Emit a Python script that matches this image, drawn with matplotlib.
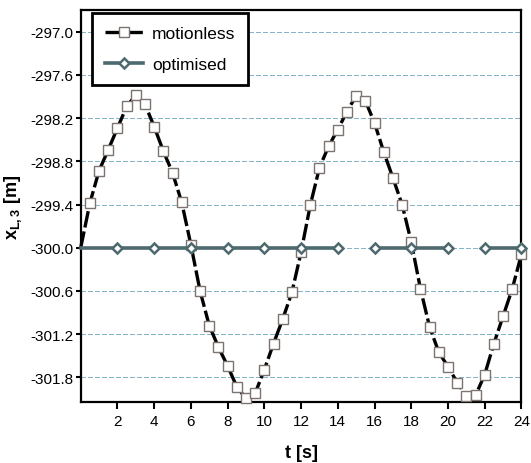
import matplotlib
matplotlib.use('Agg')
import matplotlib.pyplot as plt
import numpy as np

plt.rcParams['font.family'] = ['Liberation Sans', 'DejaVu Sans']
plt.rcParams['axes.unicode_minus'] = False
plt.rcParams['mathtext.fontset'] = 'custom'
plt.rcParams['mathtext.rm'] = 'Liberation Sans'
plt.rcParams['mathtext.bf'] = 'Liberation Sans:bold'

# motionless case, sampled every 0.5 s
t_motion = np.arange(0, 24.5, 0.5)
x_motion = [
    -300.00, -299.38, -298.93, -298.64, -298.34, -298.04, -297.88,
    -298.01, -298.32, -298.66, -298.96, -299.37, -299.96, -300.60,
    -301.08, -301.38, -301.64, -301.93, -302.09, -302.02, -301.69,
    -301.33, -300.99, -300.62, -300.06, -299.41, -298.89, -298.59,
    -298.36, -298.11, -297.89, -297.96, -298.27, -298.67, -299.03,
    -299.40, -299.92, -300.57, -301.10, -301.45, -301.65, -301.87,
    -302.06, -302.05, -301.76, -301.33, -300.95, -300.57, -300.09,
]

# optimised case, sampled every 2 s
t_opt = [0, 2, 4, 6, 8, 10, 12, 14, 16, 18, 20, 22, 24]
x_opt = [-300.0] * 13
opt_breaks = [14, 20]  # line is not drawn after these points

y_ticks = [-297.0, -297.6, -298.2, -298.8, -299.4, -300.0,
           -300.6, -301.2, -301.8]
x_ticks = [2, 4, 6, 8, 10, 12, 14, 16, 18, 20, 22, 24]

# build optimised line with gaps
opt_line_t, opt_line_x, opt_marks = [], [], []
for t, x in zip(t_opt, x_opt):
    opt_line_t.append(t)
    opt_line_x.append(x)
    if t > 0:
        opt_marks.append(len(opt_line_t) - 1)
    if t in opt_breaks:
        opt_line_t.append(t + 1)
        opt_line_x.append(np.nan)

fig = plt.figure(figsize=(5.31, 4.64), dpi=100)
ax = fig.add_axes([0.152, 0.1315, 0.830, 0.845])

for y in y_ticks:
    ax.axhline(y, color='#86b6cc', lw=1.0, ls=(0, (3, 2)), zorder=0,
               antialiased=False)

ax.plot(t_motion, x_motion, color='black', lw=2.4, ls=(0, (5, 1.2)),
        marker='s', ms=7, mfc='white', mec='#7d7470', mew=1.0,
        markevery=list(range(1, len(t_motion))), clip_on=False,
        label='motionless', zorder=3)
ax.plot(opt_line_t, opt_line_x, color='#4d6a6e', lw=2.6,
        marker='D', ms=5.5, mfc='white', mec='#4d6a6e', mew=1.8,
        markevery=opt_marks, clip_on=False, label='optimised', zorder=4)

ax.set_xlim(0, 24)
ax.set_ylim(-302.14, -296.70)
ax.set_xticks(x_ticks)
ax.set_yticks(y_ticks)
ax.set_yticklabels([f'{v:.1f}' for v in y_ticks])
ax.tick_params(axis='both', direction='out', width=1.5, labelsize=11,
               colors='black')
ax.tick_params(axis='x', length=5, pad=4)
ax.tick_params(axis='y', length=3.5, pad=2)
for spine in ax.spines.values():
    spine.set_linewidth(1.6)
    spine.set_color('black')

ax.set_xlabel('t [s]', fontsize=13, fontweight='bold', labelpad=11)
ax.set_ylabel(r'x$_\mathbf{L,3}$ [m]', fontsize=13, fontweight='bold',
              labelpad=4)

leg = ax.legend(loc='upper left', bbox_to_anchor=(0.026, 0.993),
                borderaxespad=0, fontsize=12.5, handlelength=2.2,
                labelspacing=0.9, borderpad=0.75, handletextpad=0.5,
                fancybox=False, framealpha=1, edgecolor='black')
leg.get_frame().set_linewidth(2.0)

fig.savefig('out.png', dpi=100)
